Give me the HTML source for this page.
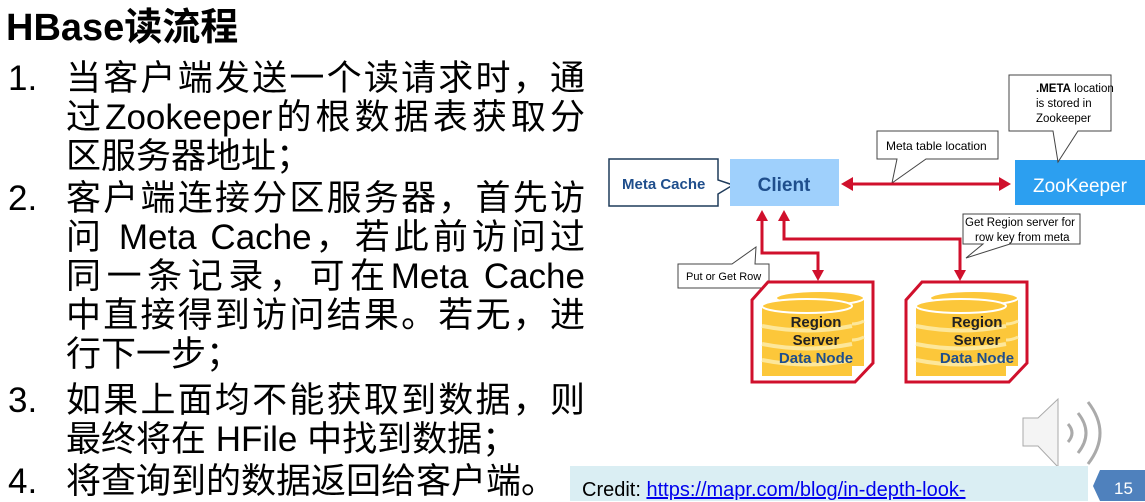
<!DOCTYPE html>
<html><head><meta charset="utf-8"><style>
body{margin:0;width:1145px;height:501px;background:#fff;position:relative;overflow:hidden;font-family:"Liberation Sans","Noto Sans CJK SC",sans-serif}
.t{position:absolute;font-size:35px;color:#000;line-height:40px;white-space:nowrap}
.j{position:absolute;left:66px;width:519px;font-size:35px;line-height:40px;text-align:justify;text-align-last:justify;white-space:nowrap}
.n{position:absolute;left:8px;font-size:35px;line-height:40px}
</style></head><body>
<div class="t" style="left:6px;top:6px;font-weight:bold;font-size:38px;line-height:44px">HBase读流程</div>
<div class="n" style="top:59px">1.</div>
<div class="j" style="top:59px">当客户端发送一个读请求时，通</div>
<div class="j" style="top:98px">过Zookeeper的根数据表获取分</div>
<div class="t" style="left:66px;top:137px">区服务器地址；</div>
<div class="n" style="top:179px">2.</div>
<div class="j" style="top:179px">客户端连接分区服务器，首先访</div>
<div class="j" style="top:218px">问 Meta Cache，若此前访问过</div>
<div class="j" style="top:257px">同一条记录，可在Meta Cache</div>
<div class="j" style="top:296px">中直接得到访问结果。若无，进</div>
<div class="t" style="left:66px;top:335px">行下一步；</div>
<div class="n" style="top:381px">3.</div>
<div class="j" style="top:381px">如果上面均不能获取到数据，则</div>
<div class="t" style="left:66px;top:420px">最终将在 HFile 中找到数据；</div>
<div class="n" style="top:462px">4.</div>
<div class="t" style="left:66px;top:462px">将查询到的数据返回给客户端。</div>

<svg width="1145" height="501" style="position:absolute;left:0;top:0" xmlns="http://www.w3.org/2000/svg" font-family="Liberation Sans, sans-serif">
<defs>
<g id="db">
<rect x="10" y="10" width="88" height="68" fill="#fcc73a"/>
<ellipse cx="54" cy="10" rx="44" ry="7" fill="#fcc73a" stroke="#fff" stroke-width="2"/>
<rect x="-4" y="18" width="90" height="70" fill="#fcc73a"/>
<ellipse cx="41" cy="18" rx="45" ry="7" fill="#fcc73a" stroke="#fff" stroke-width="2"/>
<path d="M-4 38 q45 9 90 0 M-4 56 q45 9 90 0 M-4 72 q45 9 90 0" stroke="#fde79a" stroke-width="4" fill="none"/>
<path d="M86 36 q6 0 12 -3 M86 52 q6 0 12 -3" stroke="#fde79a" stroke-width="3" fill="none"/>
</g>
</defs>
<path d="M609 159 H718 V180 L733 185 L718 194 V206 H609 Z" fill="#fff" stroke="#1f3b5a" stroke-width="1.5"/>
<text x="622" y="189" font-size="15" font-weight="bold" fill="#1f4e8c">Meta Cache</text>
<rect x="730" y="159" width="109" height="47" fill="#9fd0fc"/>
<text x="784" y="191" font-size="19" font-weight="bold" fill="#1f4e8c" text-anchor="middle">Client</text>
<rect x="1015" y="160" width="130" height="45" fill="#2c9ff0"/>
<text x="1080" y="192" font-size="19" fill="#fff" text-anchor="middle">ZooKeeper</text>
<path d="M1009 75 H1111 V131 H1078 L1058 162 L1053 131 H1009 Z" fill="#fff" stroke="#444" stroke-width="1"/>
<text x="1036" y="92" font-size="11.5" fill="#000"><tspan font-weight="bold">.META</tspan> location</text>
<text x="1036" y="107" font-size="11.5">is stored in</text>
<text x="1036" y="122" font-size="11.5">Zookeeper</text>
<path d="M877 131 H998 V159 H926 L892 183 L897 159 H877 Z" fill="#fff" stroke="#444" stroke-width="1"/>
<text x="886" y="150" font-size="12">Meta table location</text>
<line x1="850" y1="184" x2="1002" y2="184" stroke="#d0102c" stroke-width="3"/>
<polygon points="841,184 853,177 853,191" fill="#d0102c"/>
<polygon points="1011,184 999,177 999,191" fill="#d0102c"/>
<path d="M762 218 V253 H818 V272" fill="none" stroke="#d0102c" stroke-width="3"/>
<polygon points="762,210 756,221 768,221" fill="#d0102c"/>
<polygon points="818,281 812,270 824,270" fill="#d0102c"/>
<path d="M784 218 V239 H960 V272" fill="none" stroke="#d0102c" stroke-width="3"/>
<polygon points="784,210 778,221 790,221" fill="#d0102c"/>
<polygon points="960,281 954,270 966,270" fill="#d0102c"/>
<path d="M678 264 H732 L756 247 L755 264 H769 V288 H678 Z" fill="#fff" stroke="#444" stroke-width="1"/>
<text x="686" y="280" font-size="11">Put or Get  Row</text>
<path d="M963 214 H1080 V244 H1010 L966 258 L983 244 H963 Z" fill="#fff" stroke="#444" stroke-width="1"/>
<text x="965" y="226" font-size="11.5">Get Region server for</text>
<text x="975" y="241" font-size="11.5">row key from meta</text>
<path d="M768 282 H873 V363 L855 382 H752 V300 Z" fill="#fff" stroke="#d0102c" stroke-width="3"/>
<g transform="translate(766,288)"><use href="#db"/></g>
<text x="816" y="327" font-size="15" font-weight="bold" text-anchor="middle" fill="#222">Region</text>
<text x="816" y="345" font-size="15" font-weight="bold" text-anchor="middle" fill="#222">Server</text>
<text x="816" y="363" font-size="15" font-weight="bold" text-anchor="middle" fill="#1f4e8c">Data Node</text>
<path d="M922 282 H1027 V363 L1009 382 H906 V300 Z" fill="#fff" stroke="#d0102c" stroke-width="3"/>
<g transform="translate(920,288)"><use href="#db"/></g>
<text x="977" y="327" font-size="15" font-weight="bold" text-anchor="middle" fill="#222">Region</text>
<text x="977" y="345" font-size="15" font-weight="bold" text-anchor="middle" fill="#222">Server</text>
<text x="977" y="363" font-size="15" font-weight="bold" text-anchor="middle" fill="#1f4e8c">Data Node</text>
<path d="M1023 418 H1038 L1058 399 V467 L1038 446 H1023 Z" fill="#f4f4f4" stroke="#aaa" stroke-width="1"/>
<path d="M1068 424 q8 9 0 18" fill="none" stroke="#aaa" stroke-width="3"/>
<path d="M1078 413 q16 20 0 40" fill="none" stroke="#aaa" stroke-width="3"/>
<path d="M1088 402 q24 31 0 62" fill="none" stroke="#aaa" stroke-width="3"/>
<rect x="570" y="466" width="518" height="35" fill="#daeef3"/>
<text x="582" y="496" font-size="20" fill="#000">Credit: <tspan fill="#0000ee" text-decoration="underline">https://mapr.com/blog/in-depth-look-</tspan></text>
<polygon points="1100,470 1145,470 1145,501 1100,501 1093,486" fill="#4f81bd"/>
<text x="1114" y="494" font-size="17" fill="#fff">15</text>
</svg>
</body></html>
